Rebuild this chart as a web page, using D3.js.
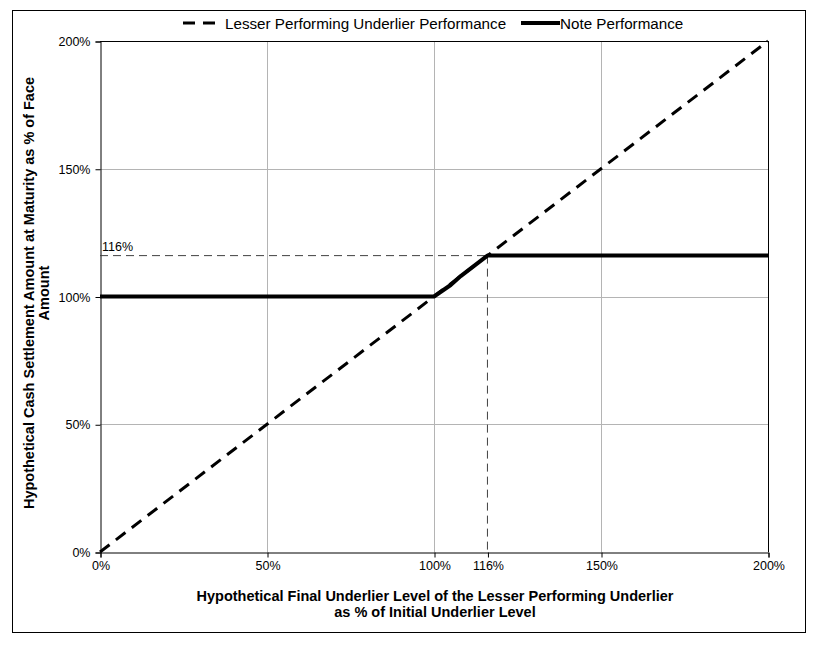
<!DOCTYPE html>
<html>
<head>
<meta charset="utf-8">
<script src="https://cdn.jsdelivr.net/npm/d3@7"></script>
<style>
  body { margin: 0; background: #fff; }
  svg { display: block; font-family: Arial, "Liberation Sans", sans-serif; }
</style>
</head>
<body>
<svg id="chart" width="820" height="648"></svg>
<script>
// ---- data ----
const xTicks = [0, 50, 100, 116, 150, 200];
const yTicks = [0, 50, 100, 150, 200];
const underlierX = [0, 50, 100, 116, 150, 200];
const underlierY = [0, 50, 100, 116, 150, 200];
const noteX = [0, 50, 100, 105, 108, 112, 116, 150, 200];
const noteY = [100, 100, 100, 104.5, 108, 112, 116, 116, 116];
const capLevel = 116;
const seriesNames = ["Lesser Performing Underlier Performance", "Note Performance"];
const xTitle = ["Hypothetical Final Underlier Level of the Lesser Performing Underlier", "as % of Initial Underlier Level"];
const yTitle = ["Hypothetical Cash Settlement Amount at Maturity as % of Face", "Amount"];

// ---- layout ----
const svg = d3.select("#chart");
const L = 100, R = 768, T = 41, B = 552;
const x = d3.scaleLinear().domain([0, 200]).range([L, R]);
const y = d3.scaleLinear().domain([0, 200]).range([B, T]);
const fmt = d => d + "%";

// outer border
svg.append("rect").attr("x", 12.5).attr("y", 10.5).attr("width", 793).attr("height", 622)
  .attr("fill", "none").attr("stroke", "#000").attr("stroke-width", 1);

// gridlines
svg.append("g").selectAll("line").data([50, 100, 150]).join("line")
  .attr("x1", d => Math.round(x(d)) + 0.5).attr("x2", d => Math.round(x(d)) + 0.5)
  .attr("y1", T).attr("y2", B).attr("stroke", "#b4b4b4").attr("stroke-width", 1);
svg.append("g").selectAll("line").data([50, 100, 150]).join("line")
  .attr("y1", d => Math.round(y(d)) + 0.5).attr("y2", d => Math.round(y(d)) + 0.5)
  .attr("x1", L).attr("x2", R).attr("stroke", "#b4b4b4").attr("stroke-width", 1);

// plot border (top/right)
svg.append("line").attr("x1", L).attr("x2", R + 0.5).attr("y1", T + 0.5).attr("y2", T + 0.5).attr("stroke", "#000");
svg.append("line").attr("x1", R + 0.5).attr("x2", R + 0.5).attr("y1", T).attr("y2", B).attr("stroke", "#000");

// axes
const xAxis = d3.axisBottom(x).tickValues(xTicks).tickFormat(fmt).tickSize(5).tickPadding(4);
const gx = svg.append("g").attr("transform", `translate(0.5,${B + 0.5})`).call(xAxis);
gx.select(".domain").attr("stroke", "#000");
gx.selectAll(".tick line").attr("stroke", "#000");
gx.selectAll("text").attr("font-size", 12.5).attr("fill", "#000").attr("font-family", "Arial, 'Liberation Sans', sans-serif");

const yAxis = d3.axisLeft(y).tickValues(yTicks).tickFormat(fmt).tickSize(5).tickPadding(5);
const gy = svg.append("g").attr("transform", `translate(${L + 0.5},0.5)`).call(yAxis);
gy.select(".domain").attr("stroke", "#000");
gy.selectAll(".tick line").attr("stroke", "#000");
gy.selectAll("text").attr("font-size", 12.5).attr("fill", "#000").attr("font-family", "Arial, 'Liberation Sans', sans-serif");

// reference dashed lines at cap
svg.append("line").attr("x1", x(0)).attr("x2", x(capLevel)).attr("y1", y(capLevel)).attr("y2", y(capLevel))
  .attr("stroke", "#404040").attr("stroke-width", 1).attr("stroke-dasharray", "8,5");
svg.append("line").attr("x1", x(capLevel)).attr("x2", x(capLevel)).attr("y1", y(capLevel)).attr("y2", y(0))
  .attr("stroke", "#404040").attr("stroke-width", 1).attr("stroke-dasharray", "8,5");
svg.append("text").attr("x", x(0) + 2).attr("y", y(capLevel) - 5).attr("font-size", 12.5).text(fmt(capLevel));

// series
const line = d3.line().x(d => x(d[0])).y(d => y(d[1]));
svg.append("path").datum(underlierX.map((v, i) => [v, underlierY[i]])).attr("d", line)
  .attr("fill", "none").attr("stroke", "#000").attr("stroke-width", 3).attr("stroke-dasharray", "12,8");
svg.append("path").datum(noteX.map((v, i) => [v, noteY[i]])).attr("d", line)
  .attr("fill", "none").attr("stroke", "#000").attr("stroke-width", 4).attr("stroke-linejoin", "round");

// legend
const lg = svg.append("g").attr("font-size", 15.2);
lg.append("line").attr("x1", 183).attr("x2", 215).attr("y1", 23).attr("y2", 23)
  .attr("stroke", "#000").attr("stroke-width", 3).attr("stroke-dasharray", "12,8");
lg.append("text").attr("x", 225).attr("y", 28.5).text(seriesNames[0]);
lg.append("line").attr("x1", 521).attr("x2", 560).attr("y1", 23).attr("y2", 23)
  .attr("stroke", "#000").attr("stroke-width", 4);
lg.append("text").attr("x", 560).attr("y", 28.5).text(seriesNames[1]);

// axis titles
const xt = svg.append("text").attr("text-anchor", "middle").attr("font-size", 14.5).attr("font-weight", "bold");
xt.append("tspan").attr("x", 435).attr("y", 601).text(xTitle[0]);
xt.append("tspan").attr("x", 435).attr("y", 617).text(xTitle[1]);

const yt = svg.append("text").attr("text-anchor", "middle").attr("font-size", 14.5).attr("font-weight", "bold")
  .attr("transform", "translate(0,293) rotate(-90)");
yt.append("tspan").attr("x", 0).attr("y", 34).text(yTitle[0]);
yt.append("tspan").attr("x", 0).attr("y", 49).text(yTitle[1]);
</script>
</body>
</html>
